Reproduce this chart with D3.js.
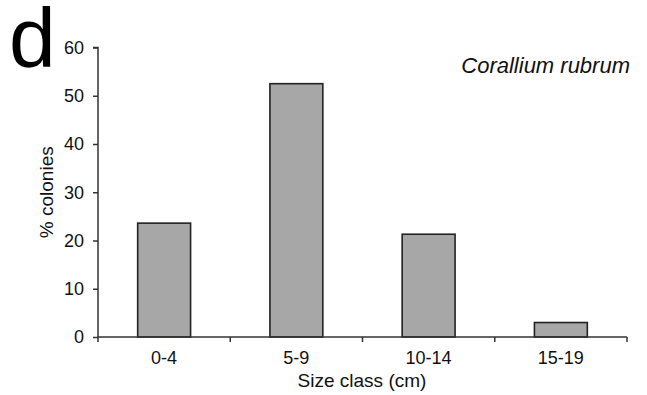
<!DOCTYPE html>
<html>
<head>
<meta charset="utf-8">
<script src="https://cdn.jsdelivr.net/npm/d3@7"></script>
<style>
  body { margin: 0; background: #fff; }
  svg { font-family: "Liberation Sans", Arial, sans-serif; }
</style>
</head>
<body>
<svg id="drawing_region"></svg>
<script>
const categories = ["0-4", "5-9", "10-14", "15-19"];
const values = [23.6, 52.5, 21.3, 3.0];
const yticks = [0, 10, 20, 30, 40, 50, 60];

const width = 647, height = 395;
const margin = { left: 98, right: 20, top: 47.5, bottom: 58 };

const svg = d3.select('#drawing_region')
    .attr('width', width)
    .attr('height', height);

const xscale = d3.scaleBand()
    .domain(categories)
    .range([margin.left, width - margin.right])
    .paddingInner(0.6)
    .paddingOuter(0.3);

const yscale = d3.scaleLinear()
    .domain([0, 60])
    .range([height - margin.bottom, margin.top]);

// bars
svg.selectAll('.bar')
    .data(values)
    .enter()
    .append('rect')
    .attr('class', 'bar')
    .attr('x', (d, i) => xscale(categories[i]))
    .attr('width', xscale.bandwidth())
    .attr('y', d => yscale(d))
    .attr('height', d => yscale(0) - yscale(d))
    .attr('fill', '#a7a7a7')
    .attr('stroke', '#222')
    .attr('stroke-width', 1.6);

// y axis
const yaxis = svg.append('g')
    .attr('transform', `translate(${margin.left},0)`)
    .call(d3.axisLeft(yscale).tickValues(yticks).tickSize(5).tickPadding(9));

// x axis: ticks at band boundaries
const bounds = d3.range(categories.length + 1).map(i => margin.left + i * (width - margin.left - margin.right) / categories.length);
const xaxis = svg.append('g');
xaxis.append('line')
    .attr('x1', margin.left).attr('x2', width - margin.right)
    .attr('y1', yscale(0)).attr('y2', yscale(0))
    .attr('stroke', '#333').attr('stroke-width', 1.5);
xaxis.selectAll('.xt')
    .data(bounds)
    .enter()
    .append('line')
    .attr('x1', d => d).attr('x2', d => d)
    .attr('y1', yscale(0)).attr('y2', yscale(0) + 5)
    .attr('stroke', '#333').attr('stroke-width', 1.5);
xaxis.selectAll('.xl')
    .data(categories)
    .enter()
    .append('text')
    .attr('x', d => xscale(d) + xscale.bandwidth() / 2)
    .attr('y', yscale(0) + 27)
    .attr('text-anchor', 'middle')
    .attr('font-size', 18)
    .attr('fill', '#111')
    .text(d => d);

yaxis.select('.domain').attr('stroke', '#333').attr('stroke-width', 1.5)
    .attr('d', `M-5,${yscale(60)}H0V${yscale(0)}`);
yaxis.selectAll('.tick line').attr('stroke', '#333').attr('stroke-width', 1.5);
yaxis.selectAll('.tick text')
    .attr('font-size', 18)
    .attr('font-family', '"Liberation Sans", Arial, sans-serif')
    .attr('fill', '#111');

// axis titles
svg.append('text')
    .attr('x', 362)
    .attr('y', 387)
    .attr('text-anchor', 'middle')
    .attr('font-size', 19)
    .attr('fill', '#111')
    .text('Size class (cm)');

svg.append('text')
    .attr('transform', `translate(53, ${(yscale(0) + yscale(60)) / 2}) rotate(-90)`)
    .attr('text-anchor', 'middle')
    .attr('font-size', 19)
    .attr('fill', '#111')
    .text('% colonies');

// panel letter and species name
svg.append('text')
    .attr('x', 9)
    .attr('y', 67)
    .attr('font-size', 84)
    .attr('fill', '#000')
    .text('d');

svg.append('text')
    .attr('x', 630)
    .attr('y', 73)
    .attr('text-anchor', 'end')
    .attr('font-size', 22)
    .attr('font-style', 'italic')
    .attr('fill', '#111')
    .text('Corallium rubrum');
</script>
</body>
</html>
